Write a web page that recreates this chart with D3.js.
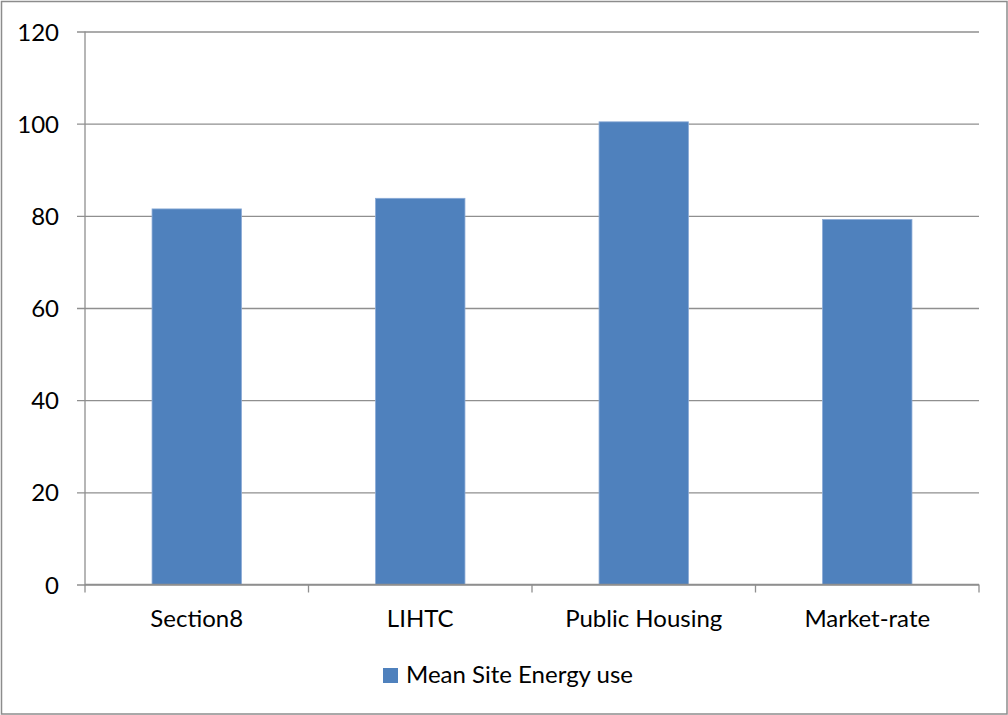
<!DOCTYPE html>
<html>
<head>
<meta charset="utf-8" />
<title>Mean Site Energy use</title>
<script src="https://cdn.jsdelivr.net/npm/d3@7"></script>
<style>
body {
	margin: 0;
	padding: 0;
	background: #fff;
	font-family: Lato, "Open Sans", sans-serif;
}
svg text {
	fill: #000;
}
</style>
</head>
<body>
<svg></svg>
<script>

// data
var categories = ["Section8", "LIHTC", "Public Housing", "Market-rate"];
var values = [81.5, 83.8, 100.4, 79.2];
var yTicks = [0, 20, 40, 60, 80, 100, 120];
var seriesName = "Mean Site Energy use";

var w = 1008, h = 715;
var plot = {left: 85, right: 979, top: 31.5, bottom: 584.5};
var barColor = "#4f81bd";
var fontSize = "24px";

var svg = d3.select("svg")
	.attr("width", w)
	.attr("height", h);

// outer chart frame
svg.append("rect")
	.attr("x", 1.5).attr("y", 1.5)
	.attr("width", w - 2.5).attr("height", h - 2.5)
	.attr("fill", "#fff")
	.attr("stroke", "#8c8c8c")
	.attr("stroke-width", 1.5);

var x = d3.scaleBand()
	.domain(categories)
	.range([plot.left, plot.right])
	.paddingInner(0.6)
	.paddingOuter(0.3);

var y = d3.scaleLinear()
	.domain([0, 120])
	.range([plot.bottom, plot.top]);

// gridlines + y axis
var yAxis = d3.axisLeft(y)
	.tickValues(yTicks)
	.tickSize(-(plot.right - plot.left))
	.tickFormat(d3.format("d"));

var gy = svg.append("g")
	.attr("transform", "translate(" + plot.left + ",0)")
	.call(yAxis);
gy.select(".domain").remove();
gy.selectAll(".tick line")
	.attr("x1", -8)
	.attr("stroke", "#8f8f8f")
	.attr("stroke-width", 1.3);
gy.selectAll(".tick text")
	.style("font-size", fontSize)
	.style("font-family", "Lato, sans-serif")
	.attr("x", -26)
	.attr("dy", "0.36em");

// y axis line
svg.append("line")
	.attr("x1", plot.left).attr("x2", plot.left)
	.attr("y1", plot.top).attr("y2", plot.bottom + 1)
	.attr("stroke", "#8f8f8f")
	.attr("stroke-width", 1.3);

// bars
svg.append("g").selectAll("rect")
	.data(values)
	.enter().append("rect")
	.attr("x", function(d, i) { return x(categories[i]); })
	.attr("y", function(d) { return y(d); })
	.attr("width", x.bandwidth())
	.attr("height", function(d) { return y(0) - y(d); })
	.attr("fill", barColor)
	.attr("stroke", "#8aaad6")
	.attr("stroke-width", 0.8);

// category axis, ticks sit between the bars
var xa = svg.append("g")
	.attr("transform", "translate(0," + plot.bottom + ")");
xa.append("line")
	.attr("x1", plot.left).attr("x2", plot.right)
	.attr("stroke", "#8f8f8f")
	.attr("stroke-width", 1.3);
var edges = d3.range(categories.length + 1).map(function(i) {
	return plot.left + i * (plot.right - plot.left) / categories.length;
});
xa.selectAll(".edge")
	.data(edges)
	.enter().append("line")
	.attr("x1", function(d) { return d; })
	.attr("x2", function(d) { return d; })
	.attr("y1", 0).attr("y2", 8)
	.attr("stroke", "#8f8f8f")
	.attr("stroke-width", 1.3);
xa.selectAll("text")
	.data(categories)
	.enter().append("text")
	.attr("x", function(d) { return x(d) + x.bandwidth() / 2; })
	.attr("y", 42)
	.attr("text-anchor", "middle")
	.style("font-size", fontSize)
	.text(function(d) { return d; });

// legend
var lg = svg.append("g").attr("transform", "translate(383,668)");
lg.append("rect")
	.attr("width", 15).attr("height", 15)
	.attr("fill", barColor);
lg.append("text")
	.attr("x", 23).attr("y", 15)
	.style("font-size", fontSize)
	.text(seriesName);

</script>
</body>
</html>
